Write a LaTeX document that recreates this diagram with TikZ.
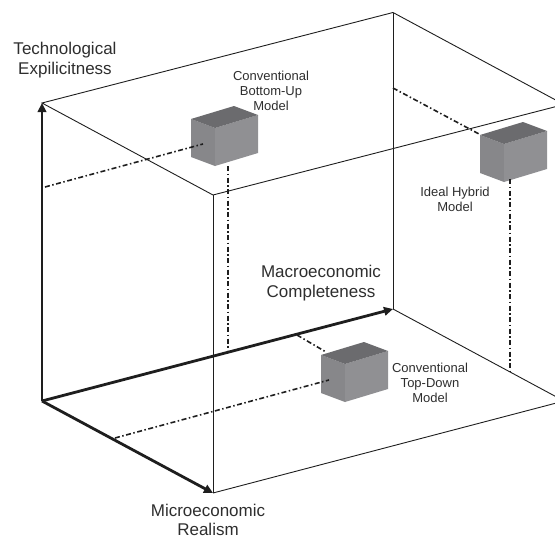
\documentclass[tikz,border=0pt]{standalone}
\usepackage{fontspec}
\setmainfont{Liberation Sans}
\usetikzlibrary{arrows.meta}
\definecolor{linec}{HTML}{1E1E1E}
\definecolor{textc}{HTML}{2E2E2E}
\definecolor{boxtop}{HTML}{6B6B6E}
\definecolor{boxleft}{HTML}{87878A}
\definecolor{boxright}{HTML}{909093}
\tikzset{
  edge/.style={draw=linec, line width=0.9pt},
  axis/.style={draw=linec, line width=2.8pt, -{Triangle[length=9pt,width=8.5pt]}},
  guide/.style={draw=linec, line width=1.6pt, dash pattern=on 5pt off 2.5pt on 1.5pt off 2.5pt},
  biglabel/.style={text=textc, font=\fontsize{17}{19.5}\selectfont, align=center, inner sep=0pt},
  smalllabel/.style={text=textc, font=\fontsize{13}{15}\selectfont, align=center, inner sep=0pt},
  modelbox/.pic={
    \fill[boxleft] (0,0) -- (-24,-9) -- (-24,-47) -- (0,-38) -- cycle;
    \fill[boxright] (0,0) -- (0,-38) -- (43,-51) -- (43,-13) -- cycle;
    \fill[boxtop] (0,-38) -- (-24,-47) -- (19,-60) -- (43,-51) -- cycle;
  }
}
\begin{document}
\begin{tikzpicture}[x=1pt, y=-1pt]
  \useasboundingbox (0,0) rectangle (555,538);
  \clip (0,0) rectangle (555,538);
  % cube corners
  \coordinate (O) at (42,401);
  \coordinate (Vtop) at (42,103);
  \coordinate (Mi) at (213,493);
  \coordinate (Ma) at (393,309);
  \coordinate (TBR) at (393,12.5);
  \coordinate (TFL) at (213,195);
  \coordinate (TFR) at (564,104.5);
  \coordinate (BFR) at (564,401);
  % thin cube edges
  \draw[edge] (Vtop) -- (TBR) -- (TFR) -- (TFL) -- cycle;
  \draw[edge] (TFL) -- (Mi);
  \draw[edge] (TBR) -- (Ma);
  \draw[edge] (Mi) -- (BFR) -- (Ma);
  \draw[edge] (TFR) -- (BFR);
  % axes
  \draw[axis] (O) -- (Vtop);
  \draw[axis] (O) -- (Mi);
  \draw[axis] (O) -- (Ma);
  % model boxes
  \pic at (215,166) {modelbox};
  \pic at (504,182) {modelbox};
  \pic at (345,402) {modelbox};
  % guide points
  \coordinate (buA) at (45,187);
  \coordinate (buB) at (203,144);
  \coordinate (buC) at (228,166);
  \coordinate (buD) at (228,350);
  \coordinate (tdA) at (115,438);
  \coordinate (tdB) at (329,380);
  \coordinate (tdC) at (297,335);
  \coordinate (tdD) at (326,352);
  \coordinate (hyA) at (393,88);
  \coordinate (hyB) at (479,134);
  \coordinate (hyC) at (510,179);
  \coordinate (hyD) at (510,371);
  \draw[guide] (buA) -- (buB);
  \draw[guide] (buC) -- (buD);
  \draw[guide] (tdA) -- (tdB);
  \draw[guide] (tdC) -- (tdD);
  \draw[guide] (hyA) -- (hyB);
  \draw[guide] (hyC) -- (hyD);
  % labels
  \node[biglabel] (lblTech) at (65,60) {Technological\\Expilicitness};
  \node[biglabel] (lblMacro) at (321,283) {Macroeconomic\\Completeness};
  \node[biglabel] (lblMicro) at (208,520) {Microeconomic\\Realism};
  \node[smalllabel] (lblBU) at (271,91) {Conventional\\Bottom-Up\\Model};
  \node[smalllabel] (lblHY) at (455,199) {Ideal Hybrid\\Model};
  \node[smalllabel] (lblTD) at (430,383) {Conventional\\Top-Down\\Model};
\end{tikzpicture}
\end{document}
